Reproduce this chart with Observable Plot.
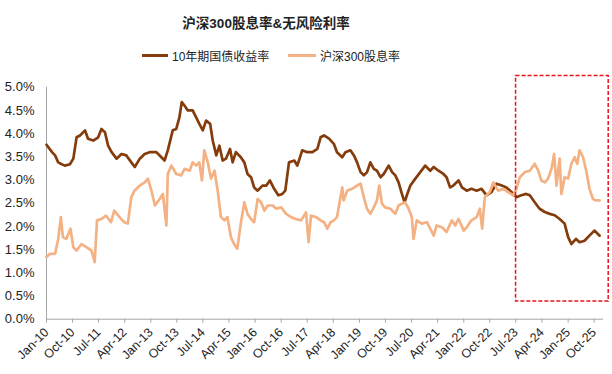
<!DOCTYPE html>
<html>
<head>
<meta charset="utf-8">
<script src="https://cdn.jsdelivr.net/npm/d3@7"></script>
<script src="https://cdn.jsdelivr.net/npm/@observablehq/plot@0.6"></script>
<style>
  html, body { margin: 0; padding: 0; background: #fff; }
  #wrap { position: relative; width: 612px; height: 374px; font-family: "Liberation Sans", Arial, "Noto Sans CJK SC", sans-serif; color: #222; }
  #title { position: absolute; top: 12px; left: 166px; width: 200px; text-align: center; font-size: 13.5px; font-weight: bold; font-family: "Liberation Sans", Arial, "Noto Sans CJK SC", sans-serif; }
  .leg { position: absolute; top: 47px; font-size: 12px; display: flex; align-items: center; white-space: nowrap; }
  .sw { display: inline-block; width: 26px; height: 3px; margin-right: 4px; }
  #chart { position: absolute; top: 0; left: 0; }
</style>
</head>
<body>
<div id="wrap">
  <div id="chart"></div>
  <div id="title">沪深300股息率&amp;无风险利率</div>
  <div class="leg" style="left:142px"><span class="sw" style="background:#843C0C"></span><span>10年期国债收益率</span></div>
  <div class="leg" style="left:288px"><span class="sw" style="background:#F4B183;width:28px"></span><span>沪深300股息率</span></div>
</div>
<script>
// 10年期国债收益率 (%)
const bondDates = ["2010-01-01","2010-02-28","2010-04-01","2010-05-04","2010-06-10","2010-07-13","2010-09-04","2010-10-10","2010-11-13","2010-12-19",
"2011-02-10","2011-03-13","2011-05-07","2011-06-28","2011-08-01","2011-09-07","2011-10-10","2011-11-16","2012-01-07","2012-02-28",
"2012-04-19","2012-06-10","2012-07-16","2012-09-07","2012-10-28","2012-12-19","2013-02-28","2013-04-22","2013-05-25","2013-06-28",
"2013-08-19","2013-09-25","2013-10-28","2013-11-22","2013-12-22","2014-01-25","2014-03-16","2014-04-22","2014-05-25","2014-07-01",
"2014-08-04","2014-09-16","2014-10-13","2014-11-19","2014-12-22","2015-01-25","2015-03-01","2015-04-13","2015-05-10","2015-06-13",
"2015-08-04","2015-09-10","2015-10-13","2015-11-19","2015-12-22","2016-01-28","2016-03-19","2016-04-28","2016-06-04","2016-07-19",
"2016-09-01","2016-10-13","2016-11-13","2016-12-22","2017-02-16","2017-03-19","2017-05-10","2017-07-01","2017-08-25","2017-10-16",
"2017-11-19","2017-12-25","2018-02-16","2018-04-07","2018-05-10","2018-07-04","2018-08-07","2018-09-28","2018-11-04","2018-12-07",
"2019-01-13","2019-02-16","2019-03-22","2019-04-25","2019-06-01","2019-07-04","2019-08-10","2019-09-13","2019-11-04","2019-12-10",
"2020-01-13","2020-02-16","2020-03-22","2020-04-19","2020-05-13","2020-06-19","2020-08-10","2020-10-01","2020-11-22","2021-01-13",
"2021-02-19","2021-04-10","2021-06-01","2021-07-04","2021-08-10","2021-09-13","2021-11-07","2021-12-13","2022-02-01","2022-03-22",
"2022-05-16","2022-07-07","2022-08-28","2022-10-19","2022-12-10","2023-02-04","2023-03-25","2023-05-16","2023-07-07","2023-08-28",
"2023-10-19","2023-11-25","2024-01-16","2024-03-07","2024-05-01","2024-06-22","2024-08-13","2024-10-04","2024-11-25","2025-01-01",
"2025-02-04","2025-03-25","2025-05-01","2025-06-22","2025-08-13","2025-10-04","2025-11-28"];
const bondValues = [3.76,3.60,3.53,3.38,3.34,3.31,3.34,3.46,3.92,3.96,
4.07,3.89,3.85,3.92,4.10,4.03,3.74,3.60,3.46,3.56,
3.53,3.38,3.28,3.46,3.56,3.60,3.60,3.49,3.42,3.64,
4.07,4.10,4.35,4.68,4.60,4.50,4.50,4.35,4.21,4.07,
4.28,4.21,3.85,3.53,3.74,3.42,3.46,3.67,3.38,3.60,
3.49,3.38,3.13,3.06,2.84,2.77,2.88,2.88,2.99,2.81,
2.67,2.70,2.77,3.38,3.42,3.31,3.64,3.60,3.60,3.67,
3.92,3.96,3.89,3.78,3.60,3.49,3.60,3.64,3.53,3.38,
3.17,3.10,3.17,3.38,3.24,3.20,3.06,3.13,3.31,3.17,
3.10,2.95,2.70,2.52,2.67,2.88,3.03,3.17,3.31,3.20,
3.28,3.20,3.13,3.06,2.84,2.88,2.99,2.84,2.77,2.81,
2.77,2.81,2.67,2.74,2.92,2.88,2.84,2.74,2.63,2.67,
2.70,2.67,2.52,2.38,2.31,2.27,2.24,2.16,2.06,1.77,
1.62,1.73,1.66,1.69,1.80,1.91,1.80];

// 沪深300股息率 (%)
const divDates = ["2010-01-01","2010-02-07","2010-04-01","2010-05-04","2010-06-01","2010-06-22","2010-07-28","2010-09-10","2010-10-10","2010-11-13",
"2011-01-04","2011-02-28","2011-04-19","2011-05-22","2011-06-16","2011-08-01","2011-09-19","2011-11-10","2011-12-13","2012-02-07",
"2012-03-28","2012-05-04","2012-06-10","2012-07-13","2012-09-07","2012-10-28","2012-12-01","2013-01-07","2013-02-13","2013-04-04",
"2013-05-07","2013-06-13","2013-06-28","2013-08-04","2013-09-25","2013-11-16","2013-12-22","2014-02-13","2014-03-16","2014-04-22",
"2014-05-25","2014-06-22","2014-07-16","2014-08-22","2014-09-25","2014-11-01","2014-12-04","2015-01-07","2015-02-13","2015-03-16",
"2015-04-22","2015-05-25","2015-06-28","2015-08-04","2015-09-10","2015-10-13","2015-11-19","2015-12-22","2016-01-28","2016-03-04",
"2016-04-07","2016-05-13","2016-07-04","2016-08-10","2016-10-01","2016-11-22","2017-01-13","2017-03-04","2017-04-28","2017-06-19",
"2017-07-16","2017-08-10","2017-10-04","2017-11-19","2017-12-25","2018-01-28","2018-03-04","2018-04-07","2018-05-10","2018-06-04",
"2018-07-04","2018-07-19","2018-08-25","2018-10-16","2018-12-07","2019-01-13","2019-02-16","2019-03-22","2019-04-25","2019-06-01",
"2019-07-04","2019-07-28","2019-08-25","2019-09-28","2019-11-22","2020-01-13","2020-02-16","2020-03-22","2020-04-25","2020-06-01",
"2020-07-04","2020-07-22","2020-08-25","2020-10-16","2020-12-10","2021-02-19","2021-03-22","2021-05-16","2021-07-04","2021-08-28",
"2021-10-04","2021-11-07","2022-01-01","2022-02-01","2022-03-22","2022-05-16","2022-06-19","2022-07-13","2022-08-10","2022-10-01",
"2022-11-07","2022-12-28","2023-02-19","2023-04-13","2023-06-04","2023-07-07","2023-08-13","2023-10-04","2023-11-25","2024-01-16",
"2024-02-22","2024-03-25","2024-05-01","2024-06-04","2024-07-10","2024-08-07","2024-09-01","2024-10-04","2024-10-22","2024-11-25",
"2025-01-01","2025-02-04","2025-03-10","2025-04-07","2025-05-01","2025-06-07","2025-07-10","2025-08-13","2025-09-19","2025-10-22",
"2025-11-28"];
const divValues = [1.34,1.41,1.41,1.73,2.20,1.77,1.73,1.95,1.55,1.48,
1.62,1.55,1.48,1.23,2.13,2.16,2.23,2.09,2.34,2.20,
2.09,2.06,2.63,2.77,2.88,2.95,3.03,2.77,2.45,2.59,
2.70,2.02,3.13,3.31,3.13,3.10,3.24,3.20,3.38,3.31,
3.38,2.99,3.64,3.38,3.03,3.20,2.77,2.20,2.13,2.20,
1.77,1.62,1.52,2.06,2.52,2.27,2.16,2.09,2.59,2.52,
2.34,2.45,2.45,2.38,2.41,2.27,2.20,2.16,2.13,2.30,
1.66,2.23,2.20,2.13,2.09,1.95,2.09,2.13,2.20,2.49,
2.84,2.56,2.77,2.81,2.88,2.92,2.63,2.38,2.27,2.41,
2.56,2.88,2.49,2.41,2.38,2.27,2.45,2.49,2.52,2.38,
2.20,1.73,2.13,2.06,2.09,1.80,2.02,1.98,1.88,2.13,
2.02,2.16,1.91,1.98,2.13,2.20,2.38,1.95,2.63,2.74,
2.95,2.77,2.81,2.74,2.67,2.81,3.06,3.17,3.20,3.35,
3.20,2.99,2.95,3.03,3.24,3.56,2.88,3.46,2.70,3.06,
3.03,3.35,3.49,3.35,3.64,3.49,3.20,2.81,2.59,2.56,
2.56];

// x tick labels (every 9 months)
const tickDates = ["2010-01-01","2010-10-01","2011-07-01","2012-04-01","2013-01-01","2013-10-01","2014-07-01","2015-04-01",
"2016-01-01","2016-10-01","2017-07-01","2018-04-01","2019-01-01","2019-10-01","2020-07-01","2021-04-01",
"2022-01-01","2022-10-01","2023-07-01","2024-04-01","2025-01-01","2025-10-01"];
const yTicks = [0,0.5,1,1.5,2,2.5,3,3.5,4,4.5,5];
const xDomain = ["2010-01-01","2025-12-28"];
// highlighted period (red dashed box)
const highlight = [{start: "2023-07-04", end: "2026-03-03", low: 0.38, high: 5.24}];

const parse = d3.utcParse("%Y-%m-%d");
const bond = bondDates.map((d, i) => ({date: parse(d), value: bondValues[i]}));
const div = divDates.map((d, i) => ({date: parse(d), value: divValues[i]}));
const hl = highlight.map(h => ({x1: parse(h.start), x2: parse(h.end), y1: h.low, y2: h.high}));
const fmt = d3.utcFormat("%b-%y");

const chart = Plot.plot({
  width: 612,
  height: 374,
  marginLeft: 46,
  marginRight: 10,
  marginTop: 86.7,
  marginBottom: 55.3,
  style: {fontFamily: "Liberation Sans, Arial, sans-serif", color: "#222", background: "transparent"},
  x: {type: "utc", domain: xDomain.map(parse)},
  y: {domain: [0, 5]},
  marks: [
    Plot.axisY({ticks: yTicks, tickFormat: d => d.toFixed(1) + "%", tickSize: 0, tickPadding: 12, fontSize: 13, label: null}),
    Plot.axisX({ticks: tickDates.map(parse), tickFormat: fmt, tickRotate: -45, tickSize: 4, tickPadding: 7, fontSize: 12.5, stroke: "#a6a6a6", label: null}),
    Plot.frame({anchor: "left", stroke: "#a6a6a6"}),
    Plot.frame({anchor: "bottom", stroke: "#a6a6a6"}),
    Plot.lineY(bond, {x: "date", y: "value", stroke: "#843C0C", strokeWidth: 2.7, strokeLinejoin: "round"}),
    Plot.lineY(div, {x: "date", y: "value", stroke: "#F4B183", strokeWidth: 2.7, strokeLinejoin: "round"}),
    Plot.rect(hl, {x1: "x1", x2: "x2", y1: "y1", y2: "y2", fill: "none", stroke: "#E8141B", strokeWidth: 1.5, strokeDasharray: "4,2", clip: false})
  ]
});
document.getElementById("chart").appendChild(chart);
</script>
</body>
</html>
